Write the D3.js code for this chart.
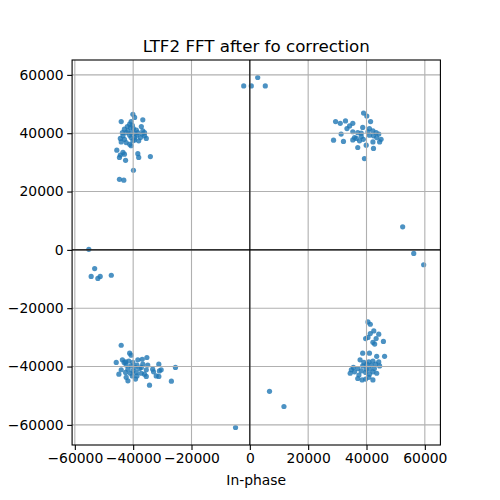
<!DOCTYPE html>
<html>
<head>
<meta charset="utf-8">
<script src="https://cdn.jsdelivr.net/npm/d3@7"></script>
<style>
  body { margin: 0; background: #fff; }
  text { font-family: "DejaVu Sans", sans-serif; fill: #000; }
</style>
</head>
<body>
<svg id="chart" width="500" height="500"></svg>
<script>
// constellation points, [in-phase, quadrature]
const upperLeft = [
  [-40100,46500],[-39500,45400],[-36700,44600],[-44100,44000],[-40700,44000],[-41200,43100],
  [-40300,42700],[-42000,42300],[-40900,42000],[-39900,41600],[-37200,42300],[-43000,41400],
  [-41800,40800],[-38900,41100],[-36700,40800],[-43700,40200],[-42400,40200],[-40700,40200],
  [-39500,40000],[-38400,40200],[-36100,40200],[-36900,39700],[-43500,39100],[-41200,39300],
  [-38700,39300],[-44400,38200],[-43000,37900],[-40700,38500],[-39500,38500],[-37500,38500],
  [-35500,38200],[-36100,39100],[-44100,37000],[-42400,36800],[-39500,37700],[-38100,37400],
  [-41200,36200],[-40700,35700],[-40100,37400],[-45600,34200],[-43500,33400],[-44400,32500],
  [-44700,31700],[-43000,32800],[-38400,33000],[-38100,31700],[-34100,32000],[-42600,30700],
  [-39900,27300],[-44700,24200],[-43200,23900]
];
const upperRight = [
  [39000,46900],[40100,45900],[29400,44000],[31000,43400],[32800,44200],[35300,43400],
  [34200,42500],[41400,44000],[33300,41600],[38700,42000],[41000,41600],[37000,40200],
  [35300,40500],[38200,40000],[40500,40500],[42200,40800],[43300,40200],[44200,39700],
  [31300,39700],[41000,39300],[42400,39100],[43500,38500],[45000,37900],[28700,37600],
  [32100,37200],[35300,37700],[36500,38200],[37600,37400],[38900,37900],[42200,37000],
  [44500,37000],[39900,35900],[37000,35100],[42400,34800],[39300,31300],[35900,38500],
  [38200,38900]
];
const lowerLeft = [
  [-44100,-32700],[-41200,-35400],[-40700,-36100],[-45800,-38600],[-43700,-37700],[-42600,-38400],
  [-41500,-38100],[-40100,-38600],[-38400,-37700],[-36900,-37500],[-35300,-36900],[-42400,-39500],
  [-40700,-39800],[-38700,-39500],[-36700,-39200],[-35000,-39500],[-31200,-39200],[-25500,-40300],
  [-44100,-41100],[-41800,-40900],[-40100,-41500],[-37800,-40700],[-35500,-41100],[-33300,-40900],
  [-31000,-41500],[-44900,-42600],[-42600,-42000],[-41000,-42300],[-38900,-42000],[-37200,-42300],
  [-36100,-42600],[-33000,-41800],[-30400,-41100],[-42400,-43700],[-40300,-43200],[-38700,-43200],
  [-35500,-43400],[-32100,-43200],[-31200,-43400],[-41800,-44900],[-39200,-44300],[-34400,-46400],
  [-26900,-45000],[-43100,-38600],[-39400,-40300],[-37200,-40300]
];
const lowerRight = [
  [40500,-24700],[41300,-25500],[42500,-27800],[41300,-28700],[44200,-28900],[39700,-30400],
  [40500,-30000],[43300,-30400],[42200,-31700],[42800,-32300],[45800,-31400],[38700,-35400],
  [41000,-35400],[37800,-37700],[39100,-38600],[40800,-38400],[42200,-38100],[43500,-36500],
  [44200,-38400],[46200,-36500],[38700,-39800],[41600,-39500],[43100,-39200],[44500,-39800],
  [35500,-40300],[37000,-40700],[39900,-40900],[41000,-40900],[42700,-40700],[34800,-41100],
  [38200,-41500],[34400,-42300],[35900,-41800],[39700,-42000],[42200,-41800],[43500,-42300],
  [37400,-42900],[41000,-42600],[37000,-44100],[38500,-44600],[39700,-44300],[40800,-43700],
  [42200,-44600],[40100,-39200]
];
const strays = [
  [-2100,56200],[500,56200],[2700,59100],[5300,56200],[52400,7900],[56200,-1200],[59600,-5100],
  [-55200,200],[-53200,-6400],[-54400,-9100],[-52100,-9800],[-51300,-9100],[-47500,-8700],
  [6750,-48500],[11700,-53700],[-4900,-60900]
];
const ticks = [-60000, -40000, -20000, 0, 20000, 40000, 60000];
const title = "LTF2 FFT after fo correction";
const xLabel = "In-phase";

const svg = d3.select("#chart");
const points = [].concat(upperLeft, upperRight, lowerLeft, lowerRight, strays);

// autoscale with 5% margin, then equal aspect (box shrinks horizontally)
function padded(ext) {
  const m = (ext[1] - ext[0]) * 0.05;
  return [ext[0] - m, ext[1] + m];
}
const xDom = padded(d3.extent(points, d => d[0]));
const yDom = padded(d3.extent(points, d => d[1]));
const plotTop = 60, plotBottom = 445;
const plotH = plotBottom - plotTop;
const plotW = (xDom[1] - xDom[0]) * plotH / (yDom[1] - yDom[0]);
const plotLeft = 256.25 - plotW / 2;
const plotRight = plotLeft + plotW;

const x = d3.scaleLinear().domain(xDom).range([plotLeft, plotRight]);
const y = d3.scaleLinear().domain(yDom).range([plotBottom, plotTop]);

const fmt = d => d < 0 ? "\u2212" + Math.abs(d) : String(d);

// points first, grid and zero lines go over them like in matplotlib
svg.append("g")
  .selectAll("circle")
  .data(points)
  .enter().append("circle")
  .attr("cx", d => x(d[0]))
  .attr("cy", d => y(d[1]))
  .attr("r", 2.6)
  .attr("fill", "#1f77b4")
  .attr("fill-opacity", 0.8);

const grid = svg.append("g").attr("stroke", "#b0b0b0").attr("stroke-width", 1.1);
grid.selectAll(".gx").data(ticks).enter().append("line")
  .attr("x1", d => x(d)).attr("x2", d => x(d))
  .attr("y1", plotTop).attr("y2", plotBottom);
grid.selectAll(".gy").data(ticks).enter().append("line")
  .attr("x1", plotLeft).attr("x2", plotRight)
  .attr("y1", d => y(d)).attr("y2", d => y(d));

svg.append("line")
  .attr("x1", plotLeft).attr("x2", plotRight)
  .attr("y1", y(0)).attr("y2", y(0))
  .attr("stroke", "#000").attr("stroke-width", 1.1);
svg.append("line")
  .attr("x1", x(0)).attr("x2", x(0))
  .attr("y1", plotTop).attr("y2", plotBottom)
  .attr("stroke", "#000").attr("stroke-width", 1.1);

// axes
const xAxis = svg.append("g")
  .attr("transform", `translate(0,${plotBottom})`)
  .call(d3.axisBottom(x).tickValues(ticks).tickFormat(fmt).tickSizeInner(4.9).tickSizeOuter(0).tickPadding(3.5));
const yAxis = svg.append("g")
  .attr("transform", `translate(${plotLeft},0)`)
  .call(d3.axisLeft(y).tickValues(ticks).tickFormat(fmt).tickSizeInner(4.9).tickSizeOuter(0).tickPadding(3.5));
[xAxis, yAxis].forEach(a => {
  a.select(".domain").remove();
  a.selectAll("line").attr("stroke", "#000").attr("stroke-width", 1.1);
  a.selectAll("text").attr("font-size", "13.9px").attr("font-family", "DejaVu Sans");
});

svg.append("rect")
  .attr("x", plotLeft).attr("y", plotTop)
  .attr("width", plotW).attr("height", plotH)
  .attr("fill", "none").attr("stroke", "#000").attr("stroke-width", 1.1);

svg.append("text")
  .attr("x", (plotLeft + plotRight) / 2).attr("y", 52)
  .attr("text-anchor", "middle")
  .attr("font-size", "16.7px")
  .text(title);

svg.append("text")
  .attr("x", (plotLeft + plotRight) / 2).attr("y", 485)
  .attr("text-anchor", "middle")
  .attr("font-size", "13.9px")
  .text(xLabel);
</script>
</body>
</html>
